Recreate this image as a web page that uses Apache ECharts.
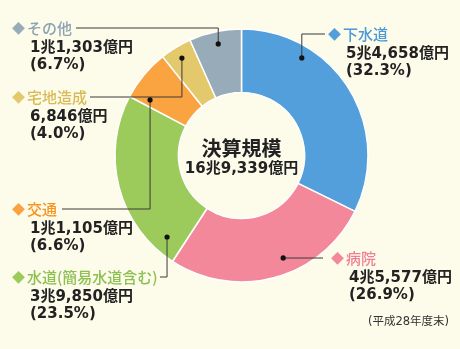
<!DOCTYPE html>
<html>
<head>
<meta charset="utf-8">
<script src="https://cdn.jsdelivr.net/npm/echarts@6/dist/echarts.min.js"></script>
<style>
html,body{margin:0;padding:0;background:#fdfbea;}
#main{width:460px;height:349px;}
</style>
</head>
<body>
<div id="main"></div>
<script>
// ---- data ----
const categories = ['下水道', '病院', '水道(簡易水道含む)', '交通', '宅地造成', 'その他'];
const amounts = [54658, 45577, 39850, 11105, 6846, 11303]; // 億円
const percents = [32.3, 26.9, 23.5, 6.6, 4.0, 6.7];
const centerTitle = '決算規模';
const noteText = '(平成28年度末)';

// ---- styles / layout ----
const colors = ['#529fdb', '#f3889a', '#9ccb5b', '#faa341', '#e3c96c', '#97abb8'];
const titleColors = ['#4a9ad8', '#ef7f95', '#8cc152', '#f7941e', '#d9bb55', '#8ca2b2'];
const CX = 241.5, CY = 155.5, R0 = 63, R1 = 126.5;
const FONT = '"Noto Sans CJK JP", "Noto Sans", sans-serif';
const NUMFONT = '"DejaVu Sans", "Noto Sans CJK JP", sans-serif';
// label block top-left
const labelXY = [[328, 22], [331, 246], [12, 265], [12, 197], [12, 85], [12, 16]];
// leader line end x (near label)
const lineEndX = [325, 323, 160, 62, 90, 76];
// dot anchor inside segment: fraction of segment angle, radius
const dotFrac = [0.273, 0.43, 0.11, 0.147, 0.49, 0.51];
const dotR = [114.7, 110.6, 110.4, 107, 114.2, 114];

function fmtOku(v) {
  const cho = Math.floor(v / 10000), oku = v % 10000;
  return (cho ? cho + '兆' : '') + oku.toLocaleString('en-US') + '億円';
}
const total = amounts.reduce((a, b) => a + b, 0);

// dot positions derived from data angles
const dots = [];
let acc = 0;
amounts.forEach((v, i) => {
  const seg = v / total * 360;
  const ang = (acc + seg * dotFrac[i]) * Math.PI / 180;
  dots.push([CX + dotR[i] * Math.sin(ang), CY - dotR[i] * Math.cos(ang)]);
  acc += seg;
});

const chart = echarts.init(document.getElementById('main'), null, {renderer: 'canvas'});

const dataItems = categories.map((c, i) => ({
  name: c,
  value: amounts[i],
  itemStyle: {color: colors[i]},
  label: {
    rich: {
      d: {fontSize: 13, color: colors[i], width: 15, fontFamily: FONT, lineHeight: 24},
      t: {fontSize: 15, color: titleColors[i], fontWeight: 500, fontFamily: FONT, lineHeight: 24},
      v: {fontSize: 15, color: '#222', fontWeight: 'bold', fontFamily: NUMFONT, lineHeight: 17, padding: [0, 0, 0, 18]}
    }
  }
}));

const graphics = [];
dots.forEach((d, i) => {
  const ty = labelXY[i][1] + 12;
  graphics.push({
    type: 'polyline', shape: {points: [[d[0], d[1]], [d[0], ty], [lineEndX[i], ty]]},
    style: {stroke: '#3a3a3a', lineWidth: 1, fill: null}, z: 99
  });
  graphics.push({
    type: 'circle', shape: {cx: d[0], cy: d[1], r: 2.6}, style: {fill: '#111'}, z: 100
  });
});
graphics.push({
  type: 'text', x: CX, y: 148,
  style: {text: centerTitle, fill: '#222', font: 'bold 20px ' + FONT, textAlign: 'center', textVerticalAlign: 'middle'}, z: 100
});
graphics.push({
  type: 'text', x: CX, y: 169,
  style: {text: fmtOku(total), fill: '#222', font: 'bold 15px ' + NUMFONT, textAlign: 'center', textVerticalAlign: 'middle'}, z: 100
});
graphics.push({
  type: 'text', x: 449, y: 322,
  style: {text: noteText, fill: '#333', font: '11.5px ' + NUMFONT, textAlign: 'right', textVerticalAlign: 'middle'}, z: 100
});

chart.setOption({
  backgroundColor: '#fdfbea',
  animation: false,
  series: [{
    type: 'pie',
    center: [CX, CY],
    radius: [R0, R1],
    startAngle: 90,
    clockwise: true,
    avoidLabelOverlap: false,
    itemStyle: {borderColor: '#ffffff', borderWidth: 1.5},
    emphasis: {disabled: true},
    label: {
      show: true,
      position: 'outside',
      formatter: function (p) {
        const i = p.dataIndex;
        return '{d|◆}{t|' + categories[i] + '}\n{v|' + fmtOku(amounts[i]) + '}\n{v|(' + percents[i].toFixed(1) + '%)}';
      }
    },
    labelLine: {show: false},
    labelLayout: function (params) {
      const i = params.dataIndex;
      return {x: labelXY[i][0], y: labelXY[i][1], align: 'left', verticalAlign: 'top'};
    },
    data: dataItems
  }],
  graphic: graphics
});
</script>
</body>
</html>
